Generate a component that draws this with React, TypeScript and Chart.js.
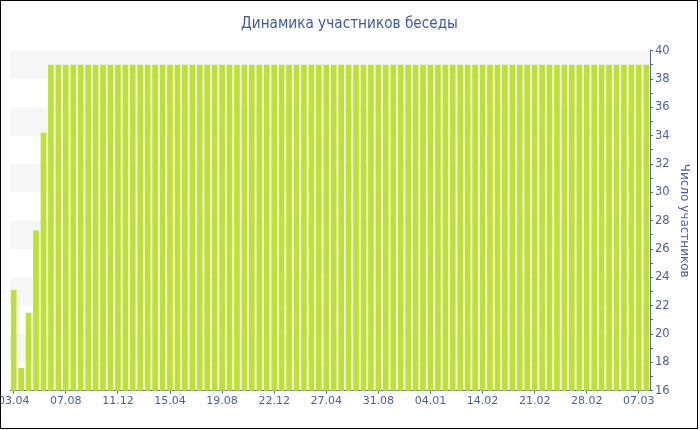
import React, { useEffect, useRef } from "react";
import { Chart, registerables } from "chart.js";

Chart.register(...registerables);

const chartTitle = "Динамика участников беседы";
const yAxisTitle = "Число участников";

const tickLabels = [
  "03.04", "07.08", "11.12", "15.04", "19.08", "22.12", "27.04",
  "31.08", "04.01", "14.02", "21.02", "28.02", "07.03",
];
const labelEvery = 7;

const values = [
  23.1, 17.6, 21.5, 27.3, 34.2, 39, 39, 39, 39, 39,
  39, 39, 39, 39, 39, 39, 39, 39, 39, 39,
  39, 39, 39, 39, 39, 39, 39, 39, 39, 39,
  39, 39, 39, 39, 39, 39, 39, 39, 39, 39,
  39, 39, 39, 39, 39, 39, 39, 39, 39, 39,
  39, 39, 39, 39, 39, 39, 39, 39, 39, 39,
  39, 39, 39, 39, 39, 39, 39, 39, 39, 39,
  39, 39, 39, 39, 39, 39, 39, 39, 39, 39,
  39, 39, 39, 39, 39, 39,
];

const yMin = 16;
const yMax = 40;
const bandStarts = [18, 22, 26, 30, 34, 38];
const bandSize = 2;

const categories = values.map((_, i) =>
  i % labelEvery === 0 && tickLabels[i / labelEvery] ? tickLabels[i / labelEvery] : ""
);

const FONT = "'DejaVu Sans', Verdana, sans-serif";
const TITLE_FONT = "'DejaVu Sans Condensed', 'DejaVu Sans', sans-serif";
const axisColor = "#5068aa";
const textColor = "#4a5fa6";
const titleColor = "#3d5aa8";
const barColor = "#bee232";
const bandColor = "#f6f6f6";

const bandsPlugin = {
  id: "bands",
  beforeDatasetsDraw(chart: any) {
    const { ctx, chartArea } = chart;
    const y = chart.scales.y;
    ctx.save();
    ctx.fillStyle = bandColor;
    for (const b of bandStarts) {
      const top = y.getPixelForValue(b + bandSize);
      const bottom = y.getPixelForValue(b);
      ctx.fillRect(chartArea.left, top, chartArea.right - chartArea.left, bottom - top);
    }
    ctx.restore();
  },
};

const titlePlugin = {
  id: "centeredTitle",
  afterDraw(chart: any) {
    const { ctx } = chart;
    ctx.save();
    ctx.font = `normal 15.2px ${TITLE_FONT}`;
    ctx.fillStyle = titleColor;
    ctx.textAlign = "center";
    ctx.textBaseline = "alphabetic";
    ctx.fillText(chartTitle, 349.5, 28);
    ctx.restore();
  },
};

export default function App() {
  const ref = useRef<HTMLCanvasElement>(null);

  useEffect(() => {
    if (!ref.current) return;
    const chart = new Chart(ref.current, {
      type: "bar",
      data: {
        labels: categories,
        datasets: [
          {
            data: values,
            backgroundColor: barColor,
            borderWidth: 0,
            barPercentage: 0.76,
            categoryPercentage: 1,
          },
        ],
      },
      options: {
        animation: false,
        responsive: false,
        maintainAspectRatio: false,
        layout: { padding: { left: 10, right: 0, top: 50.7, bottom: 0 } },
        plugins: {
          legend: { display: false },
          tooltip: { enabled: false },
          title: { display: false },
        },
        scales: {
          x: {
            offset: true,
            grid: {
              offset: false,
              drawOnChartArea: false,
              drawTicks: true,
              tickLength: 3,
              color: (ctx: any) => (categories[ctx.index] ? axisColor : "rgba(0,0,0,0)"),
            },
            border: { display: true, color: axisColor, width: 1 },
            ticks: {
              autoSkip: false,
              maxRotation: 0,
              minRotation: 0,
              padding: 1,
              color: textColor,
              font: { family: FONT, size: 11 },
              callback: (_v: any, i: number) => categories[i],
            },
            afterFit: (s: any) => {
              s.height = 39.3;
              s.paddingLeft = 0;
              s.paddingRight = 0;
            },
          },
          y: {
            position: "right",
            min: yMin,
            max: yMax,
            grid: {
              drawOnChartArea: false,
              drawTicks: true,
              tickLength: 3,
              color: axisColor,
            },
            border: { display: true, color: axisColor, width: 1 },
            ticks: {
              stepSize: 1,
              autoSkip: false,
              padding: 2,
              color: textColor,
              font: { family: FONT, size: 11.5 },
              callback: (v: any) => (Number(v) % 2 === 0 ? String(v) : ""),
            },
            title: {
              display: true,
              text: yAxisTitle,
              color: textColor,
              font: { family: FONT, size: 12 },
              padding: { top: 9, bottom: 0 },
            },
            afterFit: (s: any) => {
              s.width = 50;
              s.paddingTop = 0;
              s.paddingBottom = 0;
            },
          },
        },
      },
      plugins: [bandsPlugin, titlePlugin],
    });
    return () => chart.destroy();
  }, []);

  return (
    <div style={{ position: "fixed", left: 0, top: 0, width: 700, height: 430, background: "#fff" }}>
      <canvas ref={ref} width={700} height={430} style={{ display: "block", width: 700, height: 430 }} />
      <div
        style={{
          position: "absolute",
          left: 0,
          top: 0,
          width: 698,
          height: 429,
          border: "1px solid #000",
          boxSizing: "border-box",
          pointerEvents: "none",
        }}
      />
    </div>
  );
}
